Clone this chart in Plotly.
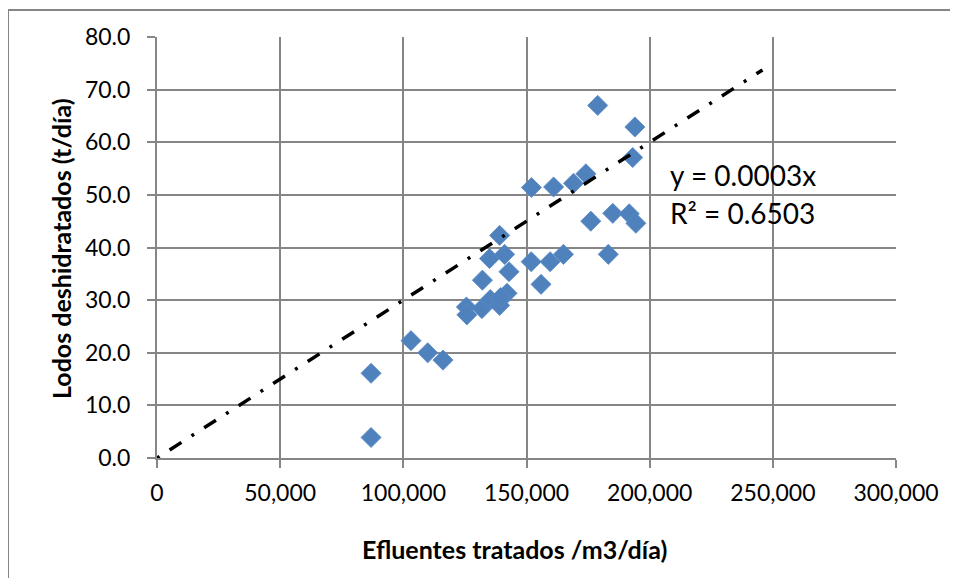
import numpy as np
import plotly.graph_objects as go

# Efluentes tratados (m3/día)
efluentes = [178900, 194000, 193100, 174100, 169100, 152000, 161000, 176100, 185000,
             191700, 194400, 139100, 183200,
             135000, 141100, 142900, 132100, 151900, 159600, 165000, 155900,
             125600, 125800, 131900, 135300, 139100, 142100, 139500,
             103100, 109900, 116100, 86900, 86900]
# Lodos deshidratados (t/día)
lodos = [67.0, 62.9, 57.1, 54.0, 52.2, 51.4, 51.5, 45.0, 46.5,
         46.4, 44.6, 42.3, 38.7,
         37.9, 38.7, 35.4, 33.8, 37.3, 37.3, 38.7, 33.0,
         28.7, 27.2, 28.4, 30.1, 29.0, 31.3, 30.5,
         22.3, 20.0, 18.6, 16.1, 3.9]

trend_slope = 0.0003
trend_x = [0, 245800]
trend_y = [trend_slope * v for v in trend_x]

x_ticks = [0, 50000, 100000, 150000, 200000, 250000, 300000]
y_ticks = [0, 10, 20, 30, 40, 50, 60, 70, 80]

GRID = "#868686"
FONT = "Lato"

fig = go.Figure()
fig.add_trace(go.Scatter(
    x=efluentes, y=lodos, mode="markers",
    marker=dict(symbol="diamond", size=15.5, color="#4F81BD",
                line=dict(width=0.8, color="#5B8CC6")),
    showlegend=False,
))
fig.add_trace(go.Scatter(
    x=trend_x, y=trend_y, mode="lines",
    line=dict(color="black", width=3.5, dash="3px,12px,14px,12px"),
    showlegend=False,
))

fig.update_layout(
    width=958, height=578,
    margin=dict(l=149, r=70, t=29, b=128),
    paper_bgcolor="white", plot_bgcolor="white",
    font=dict(family=FONT, size=23, color="black"),
    xaxis=dict(range=[0, 300000], tickvals=x_ticks, tickformat=",d",
               showgrid=True, gridcolor=GRID, gridwidth=2,
               showline=True, linecolor=GRID, linewidth=2,
               ticks="outside", ticklen=8, tickwidth=2, tickcolor=GRID,
               zeroline=False, ticklabelstandoff=5,
               tickfont=dict(family=FONT, size=23, color="black")),
    yaxis=dict(range=[0, 80], tickvals=y_ticks, tickformat=".1f",
               showgrid=True, gridcolor=GRID, gridwidth=2,
               showline=True, linecolor=GRID, linewidth=2,
               ticks="outside", ticklen=8, tickwidth=2, tickcolor=GRID,
               zeroline=False, ticklabelstandoff=12,
               tickfont=dict(family=FONT, size=23, color="black")),
    shapes=[dict(type="rect", xref="paper", yref="paper",
                 x0=-0.2016, x1=1.2, y0=-0.4, y1=1.064,
                 line=dict(color=GRID, width=2), layer="below")],
    annotations=[
        dict(text="<b>Efluentes tratados /m3/día)</b>", xref="paper", yref="paper",
             x=0.4844, y=-0.216, xanchor="center", yanchor="middle", showarrow=False,
             font=dict(family=FONT, size=25, color="black")),
        dict(text="<b>Lodos deshidratados (t/día)</b>", xref="paper", yref="paper",
             x=-0.1299, y=0.4964, xanchor="center", yanchor="middle", showarrow=False,
             textangle=-90, font=dict(family=FONT, size=25, color="black")),
        dict(text="y = 0.0003x", xref="paper", yref="paper",
             x=0.6915, y=0.672, xanchor="left", yanchor="middle", showarrow=False,
             font=dict(family=FONT, size=28, color="black")),
        dict(text="R² = 0.6503", xref="paper", yref="paper",
             x=0.6915, y=0.582, xanchor="left", yanchor="middle", showarrow=False,
             font=dict(family=FONT, size=28, color="black")),
    ],
)

fig.write_html("out.html")
